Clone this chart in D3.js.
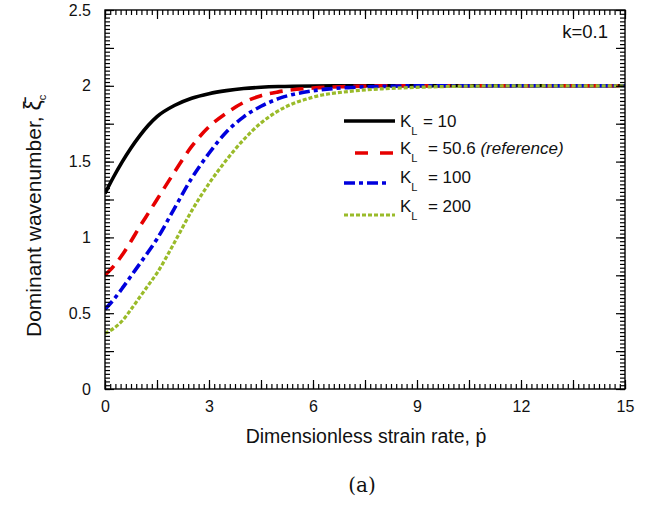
<!DOCTYPE html>
<html>
<head>
<meta charset="utf-8">
<script src="https://cdn.jsdelivr.net/npm/d3@7"></script>
<style>
  body { margin: 0; background: #fff; }
  svg { display: block; font-family: "Liberation Sans", Arial, sans-serif; }
</style>
</head>
<body>
<svg id="chart"></svg>
<script>
// strain rate values shared by all curves
const strainRate = [0, 0.25, 0.5, 0.75, 1, 1.25, 1.5, 2, 2.5, 3, 3.5, 4, 4.5, 5, 6, 7, 8, 9, 10, 12, 15];

const kl10  = [1.29, 1.40, 1.50, 1.59, 1.67, 1.74, 1.797, 1.87, 1.918, 1.948, 1.968, 1.982, 1.99, 1.995, 1.999, 2.0, 2.0, 2.0, 2.0, 2.0, 2.0];
const kl50  = [0.75, 0.81, 0.885, 0.975, 1.07, 1.16, 1.25, 1.43, 1.60, 1.73, 1.82, 1.89, 1.935, 1.96, 1.985, 1.995, 2.0, 2.0, 2.0, 2.0, 2.0];
const kl100 = [0.525, 0.59, 0.665, 0.745, 0.825, 0.905, 0.99, 1.19, 1.39, 1.555, 1.695, 1.795, 1.865, 1.915, 1.967, 1.988, 1.996, 2.0, 2.0, 2.0, 2.0];
const kl200 = [0.367, 0.40, 0.45, 0.525, 0.605, 0.685, 0.765, 0.965, 1.175, 1.355, 1.51, 1.645, 1.755, 1.835, 1.925, 1.962, 1.98, 1.99, 1.996, 2.0, 2.0];

const seriesNames = ["10", "50.6", "100", "200"];
const seriesNotes = ["", "(reference)", "", ""];
const seriesValues = [kl10, kl50, kl100, kl200];

const xLabels = [0, 3, 6, 9, 12, 15];
const yLabels = [0, 0.5, 1, 1.5, 2, 2.5];

const w = 660, h = 505;
const m = { left: 105, right: 625, top: 10, bottom: 389 };

const colors = ["#000000", "#e60000", "#0000dd", "#9abb2a"];
const dashes = [null, "13,8", "11,4,4,4", "4,2"];

const svg = d3.select("#chart").attr("width", w).attr("height", h);

const x = d3.scaleLinear().domain([0, 15]).range([m.left, m.right]);
const y = d3.scaleLinear().domain([0, 2.5]).range([m.bottom, m.top]);

// clip so the curves stay inside the frame
svg.append("clipPath").attr("id", "clip")
  .append("rect").attr("x", m.left).attr("y", m.top)
  .attr("width", m.right - m.left).attr("height", m.bottom - m.top);

const line = d3.line()
  .x(d => x(d[0]))
  .y(d => y(d[1]))
  .curve(d3.curveMonotoneX);

seriesValues.forEach((vals, i) => {
  svg.append("path")
    .datum(strainRate.map((s, j) => [s, vals[j]]))
    .attr("clip-path", "url(#clip)")
    .attr("fill", "none")
    .attr("stroke", colors[i])
    .attr("stroke-width", i == 3 ? 3.2 : 3.6)
    .attr("stroke-dasharray", dashes[i])
    .attr("d", line);
});

// frame
svg.append("rect")
  .attr("x", m.left).attr("y", m.top)
  .attr("width", m.right - m.left).attr("height", m.bottom - m.top)
  .attr("fill", "none").attr("stroke", "#000").attr("stroke-width", 1.4);

// inward ticks on all four sides
const xMinor = d3.range(0, 101).map(v => +(v * 0.15).toFixed(2));
const xMajor = d3.range(0, 11).map(v => +(v * 1.5).toFixed(2));
const yMinor = d3.range(0, 101).map(v => +(v * 0.025).toFixed(3));
const yMajor = d3.range(0, 11).map(v => +(v * 0.25).toFixed(2));

function inward(g) {
  g.select(".domain").remove();
  g.selectAll(".tick line").attr("stroke", "#000").attr("stroke-width", 1.2);
}
[[xMinor, -5], [xMajor, -9]].forEach(([vals, len]) => {
  svg.append("g").attr("transform", `translate(0,${m.bottom})`)
    .call(d3.axisBottom(x).tickValues(vals).tickSize(len).tickFormat(() => "")).call(inward);
  svg.append("g").attr("transform", `translate(0,${m.top})`)
    .call(d3.axisTop(x).tickValues(vals).tickSize(len).tickFormat(() => "")).call(inward);
});
[[yMinor, -5], [yMajor, -9]].forEach(([vals, len]) => {
  svg.append("g").attr("transform", `translate(${m.left},0)`)
    .call(d3.axisLeft(y).tickValues(vals).tickSize(len).tickFormat(() => "")).call(inward);
  svg.append("g").attr("transform", `translate(${m.right},0)`)
    .call(d3.axisRight(y).tickValues(vals).tickSize(len).tickFormat(() => "")).call(inward);
});

// tick labels
function tidy(g) {
  g.select(".domain").remove();
  g.selectAll(".tick line").remove();
  g.selectAll("text").attr("font-size", 16).attr("fill", "#111");
}
svg.append("g").attr("transform", `translate(0,${m.bottom})`)
  .call(d3.axisBottom(x).tickValues(xLabels).tickSize(0).tickPadding(12).tickFormat(d => d)).call(tidy);
svg.append("g").attr("transform", `translate(${m.left},0)`)
  .call(d3.axisLeft(y).tickValues(yLabels).tickSize(0).tickPadding(14).tickFormat(d => d)).call(tidy);

// axis titles
svg.append("text")
  .attr("x", 366).attr("y", 443)
  .attr("text-anchor", "middle").attr("font-size", 19.5).attr("fill", "#111")
  .text("Dimensionless strain rate, \u1E57");

const yt = svg.append("text")
  .attr("transform", "translate(41,337) rotate(-90)")
  .attr("font-size", 21).attr("fill", "#111");
yt.append("tspan").text("Dominant wavenumber, ");
yt.append("tspan").attr("font-size", 23).text("\u03BE\u0304");
yt.append("tspan").attr("font-size", 11).attr("dy", 5).text("c");

svg.append("text")
  .attr("x", 608).attr("y", 38)
  .attr("text-anchor", "end").attr("font-size", 18.5).attr("fill", "#111")
  .text("k=0.1");

// legend
const legText = [127, 154, 183, 212];
const legLine = [121, 153, 183, 215];
const leg = svg.append("g");
seriesNames.forEach((name, i) => {
  leg.append("line")
    .attr("x1", i == 1 ? 355 : 344).attr("x2", i == 2 ? 390 : 395)
    .attr("y1", legLine[i]).attr("y2", legLine[i])
    .attr("stroke", colors[i])
    .attr("stroke-width", i == 3 ? 3.2 : 3.6)
    .attr("stroke-dasharray", i == 1 ? "13,12" : dashes[i]);
  const t = leg.append("text")
    .attr("x", 400).attr("y", legText[i])
    .attr("font-size", 17).attr("fill", "#111");
  t.append("tspan").text("K");
  t.append("tspan").attr("font-size", 11).attr("dy", 8).text("L");
  t.append("tspan").attr("dy", -8).attr("dx", i == 0 ? 5.5 : 10.5).text("= " + name);
  if (seriesNotes[i]) {
    t.append("tspan").attr("font-style", "italic").text(" " + seriesNotes[i]);
  }
});

svg.append("text")
  .attr("x", 362).attr("y", 492)
  .attr("text-anchor", "middle").attr("font-size", 20)
  .attr("font-family", "'DejaVu Serif', 'Liberation Serif', serif").attr("fill", "#111")
  .text("(a)");
</script>
</body>
</html>
